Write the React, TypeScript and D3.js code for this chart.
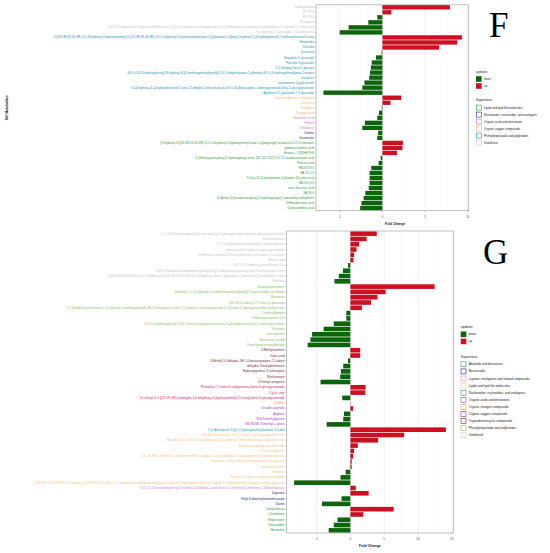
import React from "react";
import * as d3 from "d3";

// ---------- Panel F data ----------
const fNames = [
  "Prodelphinidin",
  "PC 18:3",
  "PE 18:1",
  "Phenagrin",
  "N-[2-(3,4-Dihydroxy-6-(hydroxymethyl)oxolan-2-yl]-3-(4-hydroxy-3-methoxyphenyl)-4-[2-(4-dihydroxy-5-methoxyphenyl)ethyl]prop-2-enamide 3-O-glucoside",
  "Kaempferol-3-O-glucoside-7-O-rhamnoside",
  "3-[(2S,3R,4S,5S,6R)-4,5-Dihydroxy-6-(hydroxymethyl)-3-[(2S,3R,4S,5S,6R)-3,4,5-trihydroxy-6-(hydroxymethyl)oxan-2-yl]oxyoxan-2-yl]oxy-5-hydroxy-2-(4-hydroxyphenyl)-7-methoxychromen-4-one",
  "Hesperidin",
  "Tiliroside",
  "Quercetin",
  "Hispidulin 4'-glucoside",
  "Peonidin 3-glucoside",
  "1-O-Sinapoyl-beta-D-glucose",
  "(E)-3-(3,4-Dihydroxyphenyl)-N-hydroxy-N-[(4-methoxyphenyl)methyl]-3,4,5-trihydroxyoxan-2-yl]methyl (E)-3-(4-hydroxyphenyl)prop-2-enoate",
  "Isovitexin",
  "Isorhamnetin 3-galactoside",
  "3,4-Dihydroxy-3-(4-hydroxybenzoyl)-5-oxo-2,3-dihydro-1-benzofuran-4-yl 6-O-(6-deoxy-alpha-L-mannopyranosyl)-beta-D-glucopyranoside",
  "Apigenin 6-C-glucoside 7-O-glucoside",
  "Galactosylglycerol phosphate",
  "Lactulose",
  "D-Ribose",
  "Threonic acid",
  "Glucuronic acid",
  "Proline",
  "Glutamine",
  "Uridine",
  "Guanosine",
  "[2-Hydroxy-3-[(2S,3R,4S,5S,6R)-3,4,5-trihydroxy-6-(hydroxymethyl)oxan-2-yl]oxypropyl] octadeca-9,12,15-trienoate",
  "gamma-Linolenic acid",
  "Hexose + 13(S)HOTrE",
  "3-(Hexopyranosyloxy)-2-hydroxypropyl ester, (9Z,12Z,15Z)-9,12,15-octadecatrienoic acid",
  "Palmitic acid",
  "FA 18:3;3O",
  "FA 24:1;O",
  "9-Oxo-11-(3-pentyloxiran-2-yl)undec-10-enoic acid",
  "FA 18:0;2O",
  "trans-Vaccenic acid",
  "FA 18:4",
  "[2-Acetyl-3-(hexadecanoyloxy)-2-hydroxypropyl] 2-aminoethyl phosphate",
  "9-Hexadecenoic acid",
  "Dodecanedioic acid",
];
const fValues = [
  7.9, 1.05, -0.6, -1.65, -3.95, -5.0, 9.3, 8.75, 6.65, -0.1, -0.75, -1.25, -1.35, -1.45,
  -1.55, -2.1, -2.35, -6.9, 2.2, 0.95, -0.08, -0.4, -0.6, -2.05, -2.35, -0.5, -0.6, 2.4,
  2.35, 1.7, -0.2, -0.45, -1.3, -1.5, -1.5, -1.5, -1.6, -2.0, -2.2, -2.45, -2.6,
];
const fClasses = [
  "U", "U", "U", "U", "U", "U",
  "P", "P", "P", "P", "P", "P", "P", "P", "P", "P", "P", "P",
  "OO", "OO", "OO", "OO",
  "OA", "OA", "OA",
  "N", "N",
  "L", "L", "L", "L", "L", "L", "L", "L", "L", "L", "L", "L", "L", "L",
];
const fLegend = [
  { key: "L", label: "Lipids and lipid-like molecules" },
  { key: "N", label: "Nucleosides, nucleotides, and analogues" },
  { key: "OA", label: "Organic acids and derivatives" },
  { key: "OO", label: "Organic oxygen compounds" },
  { key: "P", label: "Phenylpropanoids and polyketides" },
  { key: "U", label: "Undefined" },
];
const fColors: Record<string, string> = {
  L: "#2f9e3a",
  N: "#27306f",
  OA: "#df6fc0",
  OO: "#f5b67a",
  P: "#2393b8",
  U: "#c4c4c4",
};
const fTicks = [-5, 0, 5, 10];

// ---------- Panel G data ----------
const gNames = [
  "4-[7-(3,4-Dihydroxyphenyl)-3-methoxy-2-(4-hydroxyphenyl)chroman-5-yl]oxy-butanoic acid",
  "Dihydrocapsiate",
  "2-(2,3-Dihydroxy-3-methylbutyl)-4-methoxyphenol",
  "Isoeugenyl 6-O-alpha-L-arabinopyranoside",
  "3-Hydroxy-4-methyl-2-(3-methylphenyl)-2-propanol 3-O-acetate",
  "Pimelic acid",
  "4-(2,3,4-Trimethoxyphenyl)butan-2-ol",
  "3-[2-(2-Hydroxy-4-methoxyphenyl)ethyl]-4-[(2,3-dihydroxypropanoyl)oxy]-6-methylpyran-2-one",
  "2-[[(2S,3S,4R,5R,6S)-3,4,5-Trihydroxy-6-[(2R,3R,4S,5S,6R)-3,4,5-trihydroxy-oxan-2-yl]oxyoxan-2-yl]methoxy]-3-methylbut-2-enal",
  "Rutinose",
  "Sinapoylspermidine",
  "Dimethyl 2-[2-(4-hydroxy-3,5-dimethoxyphenyl)propyl]-3-oxosinapylbutanedioate",
  "Marmesin",
  "(2R,3S)-8-Isobutyl-7-O-beta-D-glucoside",
  "5,7-Dihydroxy-6-methoxy-3-(3-hydroxy-4-methoxyphenyl)-4H-1-benzopyran-4-one 7-O-[alpha-L-rhamnopyranosyl-(1->6)-beta-D-glucopyranoside] methyl ester",
  "Coniferaldehyde",
  "7-Methoxycoumarin-8-ol",
  "4-[3,4-Dihydroxyphenyl]-3-[(6-O-beta-D-xylopyranosyl-beta-D-glucopyranosyl)oxy]-7-methoxycoumarin",
  "Tectoridin",
  "Isoscopoletin",
  "Rosmarinic acid B",
  "Dimethoxycinnamaldehyde",
  "3-Methylxanthine",
  "Orotic acid",
  "3-Methyl-3,4-dihydro-2H-1,4-benzoxazepine-2,5-dione",
  "dehydro-Tetrahydroharman",
  "Hydroxypyridine-3-carboxylate",
  "Norharmane",
  "4-Formyl antipyrine",
  "Phenethyl 2-O-beta-D-xylopyranosyl-beta-D-glucopyranoside",
  "Cyclic cmp",
  "Di-n-butyl 4-O-[(2S,3R,4R)-tetrahydro-3,4-dihydroxy-4-(hydroxymethyl)-2-furanyl] beta-D-glucopyranoside",
  "Choline",
  "Octadecanamide",
  "Arginine",
  "N,N-Dimethylglycine",
  "N6,N6,N6-Trimethyl-L-lysine",
  "2-(6-Aminopurin-9-yl)-5-(hydroxymethyl)oxolane-3,4-diol",
  "(2E,4E)-Decadienoic acid 2-O-beta-D-glucopyranoside ester",
  "Hexadecyl 3-O-(beta-D-glucopyranosyl)-2-hydroxy-3-methylbutanoate 1-glycerol ester",
  "Heptadecanoyl glycerol glucoside",
  "3-Oxohexadecane",
  "(1S,2S,4R)-1-Hydroxy-2-(hydroxymethyl)-4-(propan-2-yl)cyclohexyl 6-O-pentopyranosyl-hexopyranoside",
  "Dihydroxy-1,5(S)-hydroxyeicosatetraenoyl-sn-glycerol",
  "Isobutyl angelate",
  "Sumatrol",
  "Geranyl 6-O-alpha-L-arabinopyranoside",
  "1-[(2R,3R,4S,5S,6R)-3,4-Dihydroxy-5-[(2S,3R,4S,5S,6R)-3,4,5-trihydroxy-6-(hydroxymethyl)oxan-2-yl]oxy-6-(hydroxymethyl)oxan-2-yl]oxy-3,7-dimethylocta-2,6-dienyl acetate glycoside",
  "6-[[2-(3,4-Dimethoxyphenyl)-3-methyl-2,3-dihydro-1-benzofuran-5-yl]methyl]-4-methoxy-1,3-benzodioxole",
  "Dapsone",
  "Ethyl 4-dimethylaminobenzoate",
  "Diuron",
  "Camptothecin",
  "Chelidonine",
  "Ergocristine",
  "Voacangine",
  "Harmaline",
];
const gValues = [
  3.9, 2.4, 1.3, 0.9, 0.55, 0.45, -0.35, -1.1, -1.7, -2.35,
  12.45, 5.2, 4.0, 3.05, 1.7, -0.6, -0.6, -2.45, -3.95, -5.65, -5.9, -6.3,
  1.45, 1.45, -0.35, -1.05, -1.4, -1.5, -4.4,
  2.25, 2.2, -1.2,
  0.04,
  0.4, -0.95, -1.05, -3.5,
  14.1,
  7.95, 4.1, 1.1, 0.55, 0.4, 0.2, 0.2, -0.7, -1.45, -8.3,
  0.8,
  2.7, -1.3, -4.2,
  6.4, 1.9, -1.9, -2.45, -3.2,
];
const gClasses = [
  "U", "U", "U", "U", "U", "U", "U", "U", "U", "U",
  "P", "P", "P", "P", "P", "P", "P", "P", "P", "P", "P", "P",
  "OH", "OH", "OH", "OH", "OH", "OH", "OH",
  "OO", "OO", "OO",
  "ON",
  "OA", "OA", "OA", "OA",
  "N",
  "L", "L", "L", "L", "L", "L", "L", "L", "L", "L",
  "LG",
  "B", "B", "B",
  "A", "A", "A", "A", "A",
];
const gLegend = [
  { key: "A", label: "Alkaloids and derivatives" },
  { key: "B", label: "Benzenoids" },
  { key: "LG", label: "Lignans, neolignans and related compounds" },
  { key: "L", label: "Lipids and lipid-like molecules" },
  { key: "N", label: "Nucleosides, nucleotides, and analogues" },
  { key: "OA", label: "Organic acids and derivatives" },
  { key: "ON", label: "Organic nitrogen compounds" },
  { key: "OO", label: "Organic oxygen compounds" },
  { key: "OH", label: "Organoheterocyclic compounds" },
  { key: "P", label: "Phenylpropanoids and polyketides" },
  { key: "U", label: "Undefined" },
];
const gColors: Record<string, string> = {
  A: "#2f9a45",
  B: "#1e2c6c",
  LG: "#cf86cf",
  L: "#f7c283",
  N: "#1f9db5",
  OA: "#a13ad8",
  ON: "#f2a23a",
  OO: "#e2195c",
  OH: "#7a2a3c",
  P: "#8cbf57",
  U: "#c4c4c4",
};
const gTicks = [-5, 0, 5, 10, 15];

const updown = [
  { key: "down", color: "#0b650b" },
  { key: "up", color: "#cc1020" },
];

const FONT = "'Liberation Sans', Arial, Helvetica, sans-serif";

type PanelProps = {
  names: string[];
  values: number[];
  classes: string[];
  colors: Record<string, string>;
  legend: { key: string; label: string }[];
  ticks: number[];
  domain: [number, number];
  frame: { x0: number; x1: number; y0: number; y1: number };
  labelSize: number;
  axisTitleSize: number;
  tickY: number;
  titleY: number;
  titleX: number;
  leg: { x: number; updownY: number; superY: number; step: number; size: number; font: number };
  letter: string;
  letterPos: [number, number];
  yTitle?: boolean;
};

function Panel(p: PanelProps) {
  const { x0, x1, y0, y1 } = p.frame;
  const x = d3.scaleLinear().domain(p.domain).range([x0, x1]);
  const y = d3
    .scaleBand<string>()
    .domain(p.names.map((_, i) => String(i)))
    .range([y0, y1])
    .paddingInner(0.13)
    .paddingOuter(0.06);
  const bw = y.bandwidth();
  const minor = p.ticks.slice(0, -1).map((t, i) => (t + p.ticks[i + 1]) / 2);
  const firstMinor = p.ticks[0] - 2.5;
  if (firstMinor > p.domain[0]) minor.unshift(firstMinor);
  const lastMinor = p.ticks[p.ticks.length - 1] + 2.5;
  if (lastMinor < p.domain[1]) minor.push(lastMinor);
  const { leg } = p;
  return (
    <g fontFamily={FONT}>
      <rect x={x0} y={y0} width={x1 - x0} height={y1 - y0} fill="#ffffff" />
      {minor.map((t) => (
        <line key={"m" + t} x1={x(t)} x2={x(t)} y1={y0} y2={y1} stroke="#f2f2f2" strokeWidth={0.4} />
      ))}
      {p.ticks.map((t) => (
        <line key={"g" + t} x1={x(t)} x2={x(t)} y1={y0} y2={y1} stroke="#e6e6e6" strokeWidth={0.6} />
      ))}
      {p.values.map((v, i) => {
        const yy = y(String(i)) as number;
        const a = x(Math.min(0, v));
        const b = x(Math.max(0, v));
        return (
          <rect
            key={"b" + i}
            x={a}
            y={yy}
            width={Math.max(0, b - a)}
            height={bw}
            fill={v >= 0 ? updown[1].color : updown[0].color}
          />
        );
      })}
      <rect x={x0} y={y0} width={x1 - x0} height={y1 - y0} fill="none" stroke="#a6a6a6" strokeWidth={0.7} />
      {p.names.map((n, i) => {
        const yy = (y(String(i)) as number) + bw / 2;
        return (
          <g key={"l" + i}>
            <line x1={x0 - 1.2} x2={x0} y1={yy} y2={yy} stroke="#444" strokeWidth={0.3} />
            <text
              x={x0 - 2.2}
              y={yy}
              textAnchor="end"
              dominantBaseline="central"
              fontSize={p.labelSize}
              fill={p.colors[p.classes[i]]}
            >
              {n}
            </text>
          </g>
        );
      })}
      {p.ticks.map((t) => (
        <g key={"t" + t}>
          <line x1={x(t)} x2={x(t)} y1={y1} y2={y1 + 1.2} stroke="#444" strokeWidth={0.3} />
          <text x={x(t)} y={p.tickY} textAnchor="middle" dominantBaseline="central" fontSize={p.labelSize} fill="#4d4d4d">
            {t}
          </text>
        </g>
      ))}
      <text
        x={p.titleX}
        y={p.titleY}
        textAnchor="middle"
        dominantBaseline="central"
        fontSize={p.axisTitleSize}
        fontWeight="bold"
        fill="#1a1a1a"
      >
        Fold Change
      </text>
      {p.yTitle && (
        <text
          transform={`translate(7,${(y0 + y1) / 2}) rotate(-90)`}
          textAnchor="middle"
          dominantBaseline="central"
          fontSize={p.axisTitleSize}
          fontWeight="bold"
          fill="#1a1a1a"
        >
          Diff Metabolites
        </text>
      )}
      <text x={leg.x} y={leg.updownY} dominantBaseline="central" fontSize={leg.font * 1.1} fill="#1a1a1a">
        updown
      </text>
      {updown.map((u, i) => {
        const cy = leg.updownY + 7 + i * leg.step;
        return (
          <g key={u.key}>
            <rect x={leg.x} y={cy - leg.size / 2} width={leg.size} height={leg.size} fill={u.color} />
            <text x={leg.x + leg.size + 2.5} y={cy} dominantBaseline="central" fontSize={leg.font} fill="#1a1a1a">
              {u.key}
            </text>
          </g>
        );
      })}
      <text x={leg.x} y={leg.superY} dominantBaseline="central" fontSize={leg.font * 1.1} fill="#1a1a1a">
        Superclass
      </text>
      {p.legend.map((s, i) => {
        const cy = leg.superY + 7.6 + i * leg.step;
        return (
          <g key={s.key}>
            <rect
              x={leg.x + 0.3}
              y={cy - leg.size / 2 + 0.3}
              width={leg.size - 0.6}
              height={leg.size - 0.6}
              fill="#ffffff"
              stroke={p.colors[s.key]}
              strokeWidth={0.6}
            />
            <text x={leg.x + leg.size + 2.5} y={cy} dominantBaseline="central" fontSize={leg.font} fill="#1a1a1a">
              {s.label}
            </text>
          </g>
        );
      })}
      <text
        x={p.letterPos[0]}
        y={p.letterPos[1]}
        fontFamily="'Liberation Serif', 'Times New Roman', serif"
        fontSize={35}
        fill="#000"
      >
        {p.letter}
      </text>
    </g>
  );
}

export default function App() {
  return (
    <svg
      width={550}
      height={553}
      viewBox="0 0 550 553"
      style={{ position: "absolute", left: 0, top: 0, background: "#fff" }}
    >
      <rect width={550} height={553} fill="#fff" />
      <Panel
        names={fNames}
        values={fValues}
        classes={fClasses}
        colors={fColors}
        legend={fLegend}
        ticks={fTicks}
        domain={[-7.77, 10.1]}
        frame={{ x0: 316, x1: 468.7, y0: 4.8, y1: 210.7 }}
        labelSize={3}
        axisTitleSize={3.3}
        tickY={217}
        titleY={224}
        titleX={395}
        leg={{ x: 476, updownY: 72, superY: 100, step: 7, size: 5.6, font: 2.9 }}
        letter="F"
        letterPos={[489, 37]}
        yTitle
      />
      <Panel
        names={gNames}
        values={gValues}
        classes={gClasses}
        colors={gColors}
        legend={gLegend}
        ticks={gTicks}
        domain={[-9.4, 15.2]}
        frame={{ x0: 286.7, x1: 453.3, y0: 231, y1: 533 }}
        labelSize={3.1}
        axisTitleSize={3.6}
        tickY={538.5}
        titleY={546}
        titleX={370}
        leg={{ x: 460.7, updownY: 327.3, superY: 356.7, step: 7.1, size: 5.6, font: 3.1 }}
        letter="G"
        letterPos={[483, 264]}
      />
    </svg>
  );
}
